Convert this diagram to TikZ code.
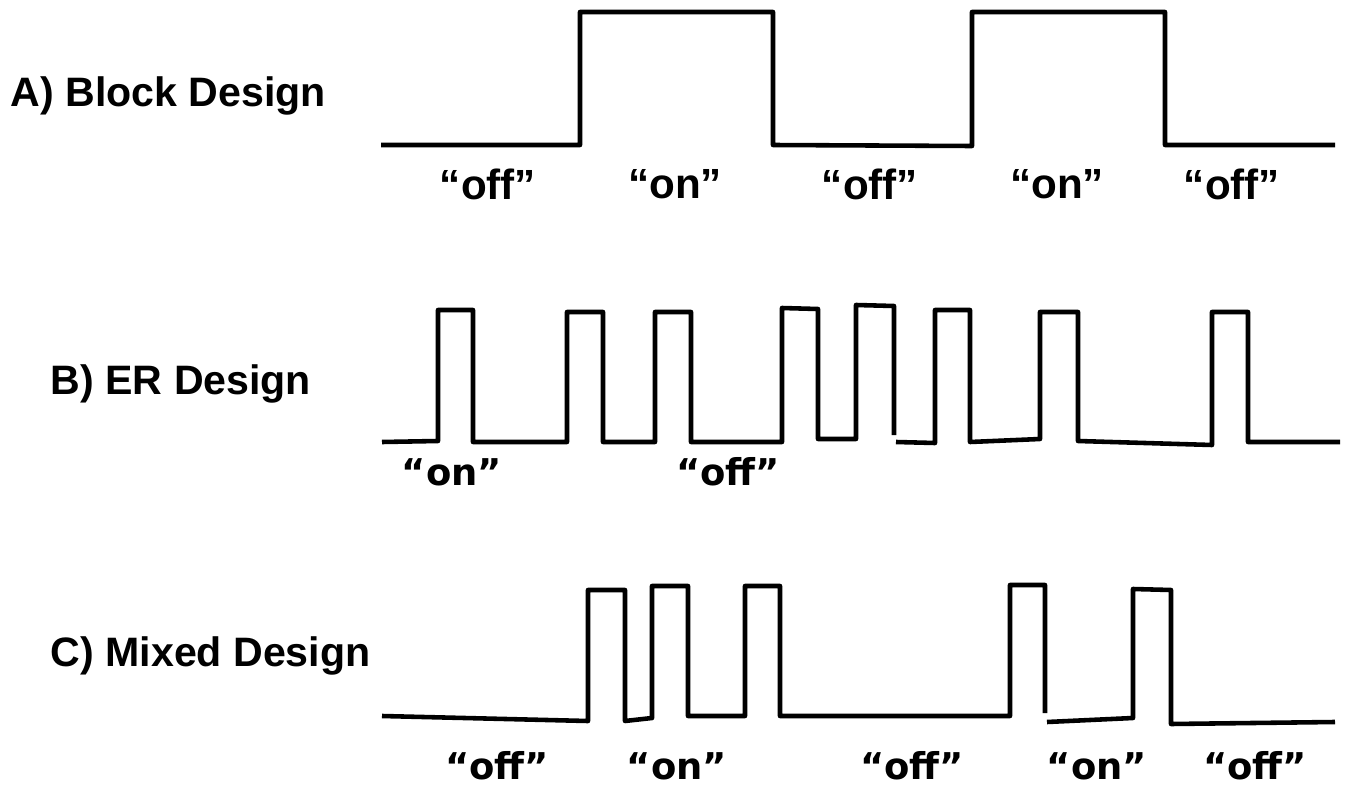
\documentclass[tikz,border=0pt]{standalone}
\usepackage{fontspec}
\setmainfont{Liberation Sans}
\newfontfamily\widefont{DejaVu Sans}
\tikzset{
	wave/.style={line width=1.3pt, line join=round},
	rowtitle/.style={anchor=west, inner sep=0pt, font=\fontsize{11.7}{14}\selectfont\bfseries},
	phaselbl/.style={inner sep=0pt, font=\fontsize{12}{14}\selectfont\bfseries},
	phasewide/.style={inner sep=0pt, font=\widefont\fontsize{10.5}{13}\selectfont\bfseries},
}

\begin{document}
\begin{tikzpicture}[x=1cm,y=1cm]
		\useasboundingbox (0,0) rectangle (13.5,-7.85);
		% A) block design
		\node[rowtitle] (titleA) at (0.10,-0.96) {A) Block Design};
		\draw[wave] (3.81,-1.45) -- (5.80,-1.45) -- (5.80,-0.12) -- (7.73,-0.12) -- (7.73,-1.45) -- (9.72,-1.46) -- (9.72,-0.12) -- (11.65,-0.12) -- (11.65,-1.45) -- (13.35,-1.45);
		\node[phaselbl] (offA1) at (4.88,-1.84) {“off”};
		\node[phaselbl] (onA1) at (6.75,-1.84) {“on”};
		\node[phaselbl] (offA2) at (8.70,-1.84) {“off”};
		\node[phaselbl] (onA2) at (10.57,-1.84) {“on”};
		\node[phaselbl] (offA3) at (12.32,-1.84) {“off”};
		% B) event related
		\node[rowtitle] (titleB) at (0.50,-3.84) {B) ER Design};
		\draw[wave] (3.82,-4.42) -- (4.38,-4.41) -- (4.38,-3.10) -- (4.73,-3.10) -- (4.73,-4.42) -- (5.67,-4.42) -- (5.67,-3.12) -- (6.03,-3.12) -- (6.03,-4.42) -- (6.55,-4.42) -- (6.55,-3.12) -- (6.91,-3.12) -- (6.91,-4.42) -- (7.82,-4.42) -- (7.82,-3.08) -- (8.18,-3.09) -- (8.18,-4.39) -- (8.56,-4.39) -- (8.56,-3.05) -- (8.94,-3.06) -- (8.94,-4.35);
		\draw[wave] (8.96,-4.42) -- (9.35,-4.43) -- (9.35,-3.10) -- (9.70,-3.10) -- (9.70,-4.42) -- (10.40,-4.39) -- (10.40,-3.12) -- (10.78,-3.12) -- (10.78,-4.41) -- (12.12,-4.45) -- (12.12,-3.12) -- (12.48,-3.12) -- (12.48,-4.42) -- (13.40,-4.42);
		\node[phasewide] (onB) at (4.52,-4.72) {“on”};
		\node[phasewide] (offB) at (7.28,-4.72) {“off”};
		% C) mixed
		\node[rowtitle] (titleC) at (0.50,-6.56) {C) Mixed Design};
		\draw[wave] (3.82,-7.16) -- (5.88,-7.21) -- (5.88,-5.90) -- (6.25,-5.90) -- (6.25,-7.21) -- (6.52,-7.18) -- (6.52,-5.86) -- (6.88,-5.86) -- (6.88,-7.16) -- (7.45,-7.16) -- (7.45,-5.86) -- (7.80,-5.86) -- (7.80,-7.16) -- (10.10,-7.16) -- (10.10,-5.85) -- (10.45,-5.85) -- (10.45,-7.13);
		\draw[wave] (10.47,-7.22) -- (11.33,-7.18) -- (11.33,-5.89) -- (11.71,-5.90) -- (11.71,-7.24) -- (13.35,-7.22);
		\node[phasewide] (offC1) at (4.97,-7.66) {“off”};
		\node[phasewide] (onC1) at (6.77,-7.66) {“on”};
		\node[phasewide] (offC2) at (9.12,-7.66) {“off”};
		\node[phasewide] (onC2) at (10.97,-7.66) {“on”};
		\node[phasewide] (offC3) at (12.55,-7.66) {“off”};
	\end{tikzpicture}
\end{document}
